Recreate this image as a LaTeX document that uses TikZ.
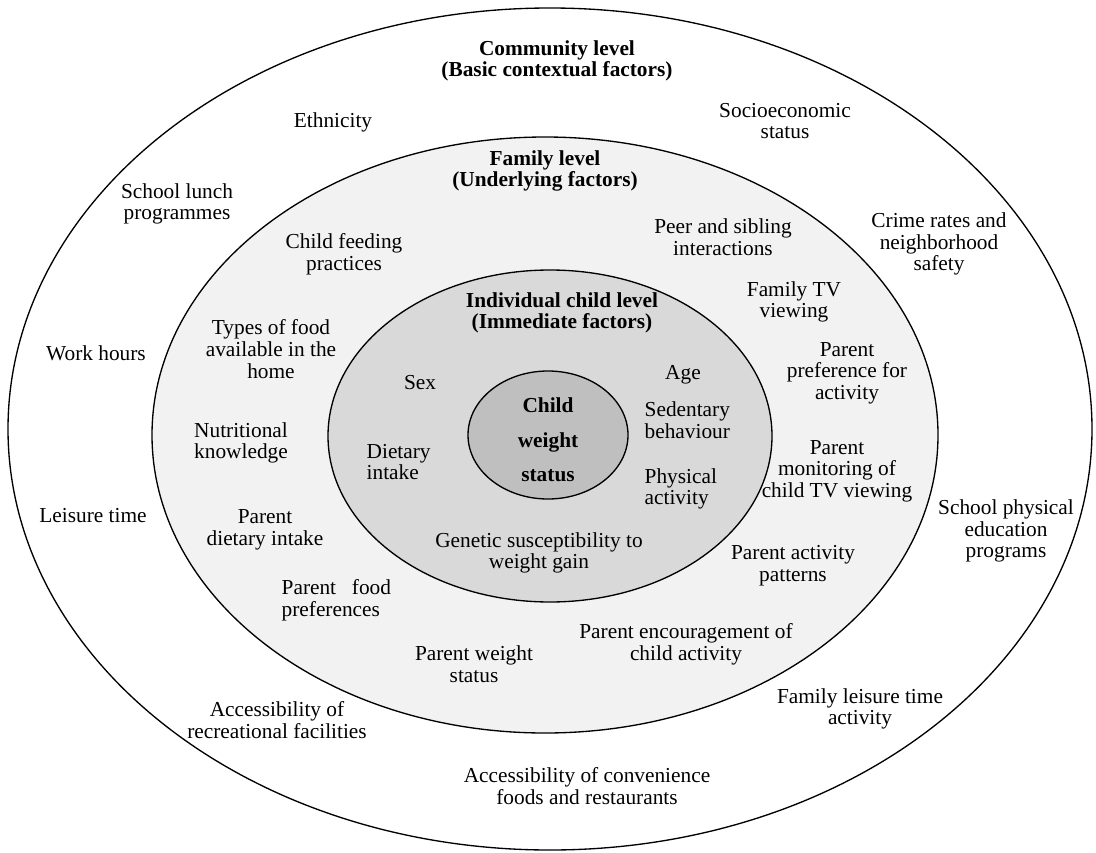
\documentclass[tikz,border=0pt]{standalone}
\usepackage{fontspec}
\setmainfont{Liberation Serif}
\begin{document}
\begin{tikzpicture}[x=0.75pt, y=-0.75pt, line width=1pt,
		factor/.style={align=center, inner sep=0pt, font=\fontsize{16}{16.2}\selectfont},
		leftfactor/.style={factor, align=left, anchor=west},
		level/.style={factor, font=\fontsize{16}{16.2}\selectfont\bfseries},
		core/.style={factor, font=\fontsize{16}{26}\selectfont\bfseries}]
	\useasboundingbox (0,0) rectangle (1096,853);

	\draw[fill=white] (550,429) ellipse [x radius=542, y radius=421];
	\draw[fill=black!5] (545,435) ellipse [x radius=393, y radius=298];
	\draw[fill=black!15] (550,436) ellipse [x radius=222, y radius=166];
	\draw[fill=black!25] (548,435) ellipse [x radius=80, y radius=64];

	\node[level] at (557,61) (community) {Community level\\(Basic contextual factors)};
	\node[factor] at (333,122) (ethnicity) {Ethnicity};
	\node[factor] at (785,121) (ses) {Socioeconomic\\status};
	\node[factor] at (177,204) (lunch) {School lunch\\programmes};
	\node[factor] at (939,244) (crime) {Crime rates and\\neighborhood\\safety};
	\node[factor] at (96,353) (work) {Work hours};
	\node[factor] at (93,516) (leisure) {Leisure time};
	\node[factor] at (1006,531) (schoolpe) {School physical\\education\\programs};
	\node[factor] at (277,720) (recreation) {Accessibility of\\recreational facilities};
	\node[factor] at (860,709) (famleisure) {Family leisure time\\activity};
	\node[factor] at (587,786) (convenience) {Accessibility of convenience\\foods and restaurants};

	\node[level] at (545,171) (family) {Family level\\(Underlying factors)};
	\node[factor] at (344,254) (feeding) {Child feeding\\practices};
	\node[factor] at (723,237) (peer) {Peer and sibling\\interactions};
	\node[factor] at (794,302) (familytv) {Family TV\\viewing};
	\node[factor] at (271,349) (foodtypes) {Types of food\\available in the\\home};
	\node[factor] at (847,373) (preference) {Parent\\preference for\\activity};
	\node[factor] at (241,443) (nutrition) {Nutritional\\knowledge};
	\node[factor] at (837,471) (monitoring) {Parent\\monitoring of\\child TV viewing};
	\node[factor] at (265,530) (parentdiet) {Parent\\dietary intake};
	\node[factor] at (793,566) (parentact) {Parent activity\\patterns};
	\node[leftfactor] at (281,600) (foodpref) {\makebox[82pt][s]{Parent food}\\preferences};
	\node[factor] at (686,644) (encourage) {Parent encouragement of\\child activity};
	\node[factor] at (474,664) (parentweight) {Parent weight\\status};

	\node[level] at (562,313) (individual) {Individual child level\\(Immediate factors)};
	\node[factor] at (420,383) (sex) {Sex};
	\node[factor] at (683,375) (age) {Age};
	\node[leftfactor] at (644,420) (sedentary) {Sedentary\\behaviour};
	\node[leftfactor] at (366,462) (dietary) {Dietary\\intake};
	\node[leftfactor] at (644,489) (physical) {Physical\\activity};
	\node[factor] at (539,553) (genetic) {Genetic susceptibility to\\weight gain};

	\node[core] at (548,440) (weight) {Child\\weight\\status};
\end{tikzpicture}
\end{document}
